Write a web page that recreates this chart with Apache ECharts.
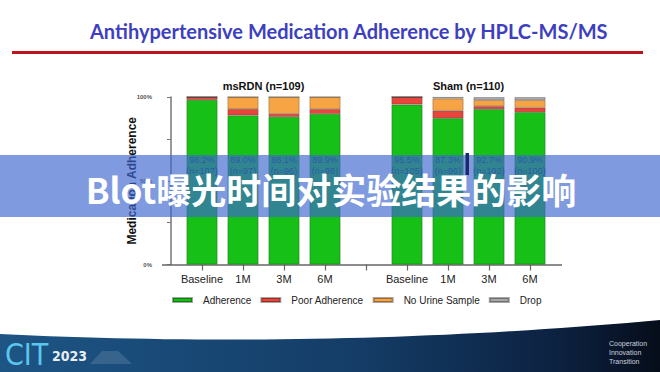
<!DOCTYPE html>
<html><head><meta charset="utf-8">
<script src="https://cdn.jsdelivr.net/npm/echarts@6/dist/echarts.min.js"></script>
<style>html,body{margin:0;padding:0;background:#fff}#c{width:660px;height:372px}</style>
</head><body><div id="c"></div>
<script>
// ---- data ----
const categories = ['Baseline', '1M', '3M', '6M', '', 'Baseline', '1M', '3M', '6M'];
const adherence   = [98.2, 89.0, 88.1, 89.9, null, 95.5, 87.3, 92.7, 90.9];
const poorAdh     = [1.8, 3.7, 1.8, 2.8, null, 4.5, 4.5, 1.8, 2.7];
const noUrine     = [0, 7.3, 10.1, 7.3, null, 0, 7.3, 3.6, 4.5];
const dropOut     = [0, 0, 0, 0, null, 0, 0.9, 1.8, 1.8];
const nAdherent   = [107, 97, 96, 98, null, 105, 96, 102, 100];
const yTicks      = [0, 25, 50, 75, 100];
const groupTitles = ['msRDN (n=109)', 'Sham (n=110)'];
const legendNames = ['Adherence', 'Poor Adherence', 'No Urine Sample', 'Drop'];

const LABEL_LEVEL = 59;
const colors = ['#16c016', '#e8453c', '#f7a445', '#a9a9a9'];
const FONT = '"Liberation Sans", Arial, sans-serif';

const chart = echarts.init(document.getElementById('c'), null, {renderer: 'svg'});

const barStyle = (c) => ({color: c, borderColor: 'rgba(0,0,0,0.35)', borderWidth: 0.7});
const seriesData = [adherence, poorAdh, noUrine, dropOut];

const series = seriesData.map((d, k) => ({
  name: legendNames[k], type: 'bar', stack: 'total', barWidth: 31,
  data: d, itemStyle: barStyle(colors[k]), z: 2
}));
series.push({
  type: 'scatter', symbolSize: 0, silent: true, z: 3,
  data: adherence.map((v, i) => v == null ? null : [i, LABEL_LEVEL, v, nAdherent[i]]),
  label: {
    show: true, position: 'inside', fontSize: 9, lineHeight: 11, color: '#0a1870', fontFamily: FONT,
    formatter: p => p.value[2].toFixed(1) + '%\n(n=' + p.value[3] + ')'
  }
});

// footer outline (decoration): quadratic curve sampled into a polygon
const footerPts = [];
for (let k = 0; k <= 40; k++) {
  const t = k / 40;
  const x = 2 * (1 - t) * t * 330 + t * t * 660;
  const y = (1 - t) * (1 - t) * 334 + 2 * (1 - t) * t * 350 + t * t * 320;
  footerPts.push([x, y]);
}
footerPts.push([660, 372], [0, 372]);

chart.setOption({
  animation: false,
  backgroundColor: '#ffffff',
  grid: {left: 181.5, width: 369, top: 97, height: 167.5},
  legend: {
    data: legendNames, left: 172, top: 295, padding: 0, icon: 'rect', itemWidth: 19, itemHeight: 4, itemGap: 9,
    textStyle: {fontSize: 10, color: '#222', fontFamily: FONT, padding: [0, 0, 0, 6]}
  },
  xAxis: {
    type: 'category', data: categories,
    axisLine: {show: false},
    axisTick: {show: true, alignWithLabel: true, interval: 0, length: 6, lineStyle: {color: '#666', width: 1.2}},
    axisLabel: {interval: 0, fontSize: 11, color: '#222', margin: 9, fontFamily: FONT}
  },
  yAxis: {
    type: 'value', min: yTicks[0], max: yTicks[yTicks.length - 1], interval: yTicks[1] - yTicks[0],
    position: 'left', offset: 10.5,
    axisLine: {show: true, lineStyle: {color: '#777', width: 1.5}},
    axisTick: {show: true, length: 4, lineStyle: {color: '#777', width: 1}},
    axisLabel: {formatter: v => (v % 50 === 0 ? v + '%' : ''), fontSize: 6, fontWeight: 'bold', color: '#555', margin: 19, fontFamily: FONT},
    splitLine: {show: false},
    name: 'Medication Adherence', nameLocation: 'middle', nameGap: 33, nameMoveOverlap: false,
    nameTextStyle: {fontSize: 12, fontWeight: 'bold', color: '#111', fontFamily: FONT}
  },
  series: series,
  graphic: [
    {type: 'text', x: 90, y: 31, z: 10,
     style: {text: 'Antihypertensive Medication Adherence by HPLC-MS/MS', fill: '#3e3fbf', font: 'bold 20px Lato, "Open Sans", sans-serif', textVerticalAlign: 'middle'}},
    {type: 'rect', shape: {x: 12, y: 51, width: 631, height: 3}, z: 10,
     style: {fill: '#bc131d'}},
    {type: 'text', x: 263.5, y: 86, z: 10,
     style: {text: groupTitles[0], fill: '#111', font: 'bold 11px ' + FONT, textAlign: 'center', textVerticalAlign: 'middle'}},
    {type: 'text', x: 468.5, y: 86, z: 10,
     style: {text: groupTitles[1], fill: '#111', font: 'bold 11px ' + FONT, textAlign: 'center', textVerticalAlign: 'middle'}},
    {type: 'line', shape: {x1: 162, y1: 265, x2: 562, y2: 265}, z: 1,
     style: {stroke: '#666', lineWidth: 1.5}},
    // banner overlay
    {type: 'rect', shape: {x: 0, y: 155, width: 660, height: 62}, z: 100,
     style: {fill: 'rgba(62,102,208,0.66)'}},
    {type: 'rect', shape: {x: 465.5, y: 153, width: 3.5, height: 22}, z: 101,
     style: {fill: '#1b2a6c'}},
    {type: 'text', x: 331, y: 188, z: 102,
     style: {text: 'Blot曝光时间对实验结果的影响', fill: '#ffffff', font: 'bold 35px "Noto Sans CJK SC", sans-serif', textAlign: 'center', textVerticalAlign: 'middle'}},
    // footer
    {type: 'polygon', z: 50, shape: {points: footerPts},
     style: {fill: new echarts.graphic.LinearGradient(0, 0, 1, 0, [
       {offset: 0, color: '#1d5585'}, {offset: 0.55, color: '#143c66'}, {offset: 0.85, color: '#0c2140'}, {offset: 1, color: '#060d1a'}])}},
    {type: 'polygon', z: 51, shape: {points: [[90, 364], [102, 351], [118, 351], [132, 364]]},
     style: {fill: 'rgba(160,180,200,0.22)'}},
    {type: 'text', x: 5, y: 354, z: 52,
     style: {text: 'CIT', fill: '#5cc6ec', font: '30px "DejaVu Sans Condensed", sans-serif', textVerticalAlign: 'middle'}},
    {type: 'text', x: 52, y: 356, z: 52,
     style: {text: '2023', fill: '#e8eef4', font: 'bold 14px "DejaVu Sans Condensed", sans-serif', textVerticalAlign: 'middle'}},
    {type: 'text', x: 609, y: 352, z: 52,
     style: {text: 'Cooperation\nInnovation\nTransition', fill: '#c8d2dc', font: '7px ' + FONT, lineHeight: 9, textVerticalAlign: 'middle'}}
  ]
});
</script></body></html>
